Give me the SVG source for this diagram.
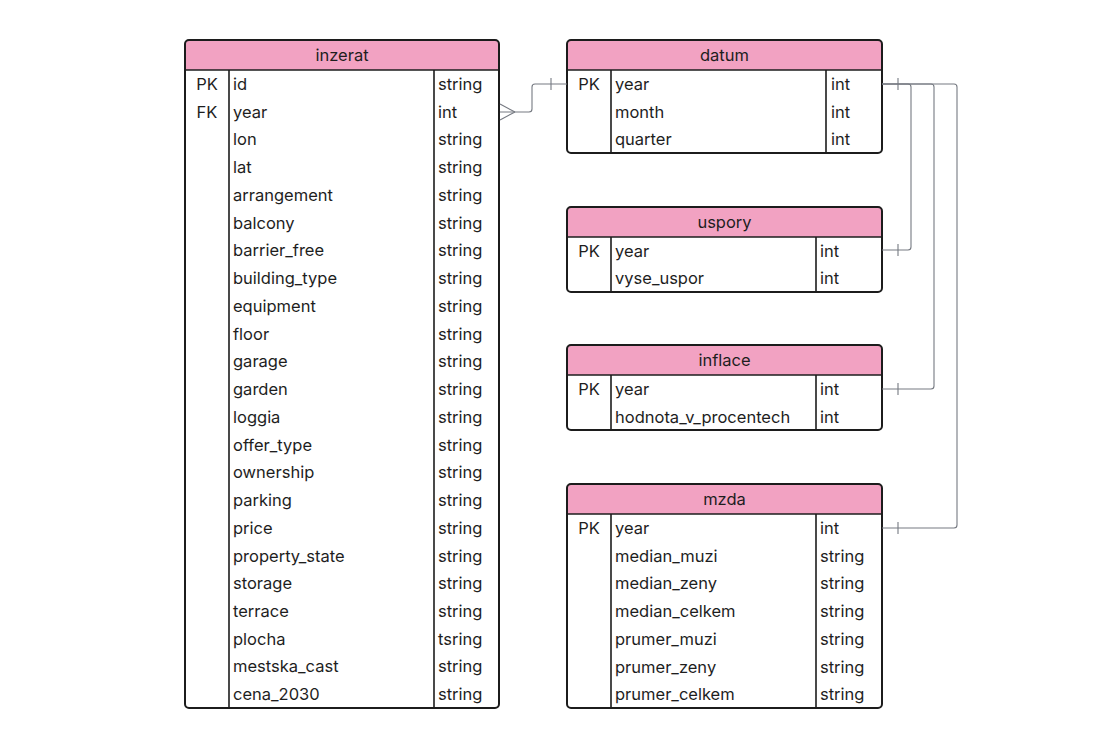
<svg xmlns="http://www.w3.org/2000/svg" width="1103" height="735" viewBox="0 0 1103 735">
<style>
text{font-family:Inter,"Noto Sans","Liberation Sans",sans-serif;font-size:16.5px;fill:#1e1e1e;dominant-baseline:central}
.hd{text-anchor:middle}
.k{text-anchor:middle}
.box{fill:#fff;stroke:none}
.hdr{fill:#f2a2c2;stroke:none}
.ln{stroke:#1c1c1c;stroke-width:1.6;fill:none}
.out{fill:none;stroke:#1c1c1c;stroke-width:2}
.cn{fill:none;stroke:#767a82;stroke-width:1.1}
</style>
<rect width="1103" height="735" fill="#fff"/>

<g id="inzerat">
<rect class="box" x="185" y="40" width="314" height="668" rx="4"/>
<path class="hdr" d="M185,70 V44 a4,4 0 0 1 4,-4 H495 a4,4 0 0 1 4,4 V70 Z"/>
<line class="ln" x1="185" y1="70" x2="499" y2="70"/>
<line class="ln" x1="229" y1="70" x2="229" y2="708"/>
<line class="ln" x1="434" y1="70" x2="434" y2="708"/>
<rect class="out" x="185" y="40" width="314" height="668" rx="4"/>
<text class="hd" x="342" y="55">inzerat</text>
<text class="k" x="207" y="83.9">PK</text>
<text class="k" x="207" y="111.6">FK</text>
<text x="233" y="83.9">id</text><text x="438" y="83.9">string</text>
<text x="233" y="111.6">year</text><text x="438" y="111.6">int</text>
<text x="233" y="139.4">lon</text><text x="438" y="139.4">string</text>
<text x="233" y="167.1">lat</text><text x="438" y="167.1">string</text>
<text x="233" y="194.8">arrangement</text><text x="438" y="194.8">string</text>
<text x="233" y="222.6">balcony</text><text x="438" y="222.6">string</text>
<text x="233" y="250.3">barrier_free</text><text x="438" y="250.3">string</text>
<text x="233" y="278.1">building_type</text><text x="438" y="278.1">string</text>
<text x="233" y="305.8">equipment</text><text x="438" y="305.8">string</text>
<text x="233" y="333.5">floor</text><text x="438" y="333.5">string</text>
<text x="233" y="361.3">garage</text><text x="438" y="361.3">string</text>
<text x="233" y="389">garden</text><text x="438" y="389">string</text>
<text x="233" y="416.8">loggia</text><text x="438" y="416.8">string</text>
<text x="233" y="444.5">offer_type</text><text x="438" y="444.5">string</text>
<text x="233" y="472.2">ownership</text><text x="438" y="472.2">string</text>
<text x="233" y="500">parking</text><text x="438" y="500">string</text>
<text x="233" y="527.7">price</text><text x="438" y="527.7">string</text>
<text x="233" y="555.5">property_state</text><text x="438" y="555.5">string</text>
<text x="233" y="583.2">storage</text><text x="438" y="583.2">string</text>
<text x="233" y="610.9">terrace</text><text x="438" y="610.9">string</text>
<text x="233" y="638.7">plocha</text><text x="438" y="638.7">tsring</text>
<text x="233" y="666.4">mestska_cast</text><text x="438" y="666.4">string</text>
<text x="233" y="694.2">cena_2030</text><text x="438" y="694.2">string</text>
</g>

<g id="datum">
<rect class="box" x="567" y="40" width="315" height="113" rx="4"/>
<path class="hdr" d="M567,70 V44 a4,4 0 0 1 4,-4 H878 a4,4 0 0 1 4,4 V70 Z"/>
<line class="ln" x1="567" y1="70" x2="882" y2="70"/>
<line class="ln" x1="611" y1="70" x2="611" y2="153"/>
<line class="ln" x1="826" y1="70" x2="826" y2="153"/>
<rect class="out" x="567" y="40" width="315" height="113" rx="4"/>
<text class="hd" x="724.5" y="55">datum</text>
<text class="k" x="589" y="83.9">PK</text>
<text x="615" y="83.9">year</text><text x="831" y="83.9">int</text>
<text x="615" y="111.6">month</text><text x="831" y="111.6">int</text>
<text x="615" y="139.4">quarter</text><text x="831" y="139.4">int</text>
</g>

<g id="uspory">
<rect class="box" x="567" y="207" width="315" height="85" rx="4"/>
<path class="hdr" d="M567,237 V211 a4,4 0 0 1 4,-4 H878 a4,4 0 0 1 4,4 V237 Z"/>
<line class="ln" x1="567" y1="237" x2="882" y2="237"/>
<line class="ln" x1="611" y1="237" x2="611" y2="292"/>
<line class="ln" x1="816" y1="237" x2="816" y2="292"/>
<rect class="out" x="567" y="207" width="315" height="85" rx="4"/>
<text class="hd" x="724.5" y="222">uspory</text>
<text class="k" x="589" y="250.5">PK</text>
<text x="615" y="250.5">year</text><text x="820" y="250.5">int</text>
<text x="615" y="278.2">vyse_uspor</text><text x="820" y="278.2">int</text>
</g>

<g id="inflace">
<rect class="box" x="567" y="345" width="315" height="85" rx="4"/>
<path class="hdr" d="M567,375 V349 a4,4 0 0 1 4,-4 H878 a4,4 0 0 1 4,4 V375 Z"/>
<line class="ln" x1="567" y1="375" x2="882" y2="375"/>
<line class="ln" x1="611" y1="375" x2="611" y2="430"/>
<line class="ln" x1="816" y1="375" x2="816" y2="430"/>
<rect class="out" x="567" y="345" width="315" height="85" rx="4"/>
<text class="hd" x="724.5" y="360">inflace</text>
<text class="k" x="589" y="388.9">PK</text>
<text x="615" y="388.9">year</text><text x="820" y="388.9">int</text>
<text x="615" y="416.6">hodnota_v_procentech</text><text x="820" y="416.6">int</text>
</g>

<g id="mzda">
<rect class="box" x="567" y="484" width="315" height="224" rx="4"/>
<path class="hdr" d="M567,514 V488 a4,4 0 0 1 4,-4 H878 a4,4 0 0 1 4,4 V514 Z"/>
<line class="ln" x1="567" y1="514" x2="882" y2="514"/>
<line class="ln" x1="611" y1="514" x2="611" y2="708"/>
<line class="ln" x1="816" y1="514" x2="816" y2="708"/>
<rect class="out" x="567" y="484" width="315" height="224" rx="4"/>
<text class="hd" x="724.5" y="499">mzda</text>
<text class="k" x="589" y="527.9">PK</text>
<text x="615" y="527.9">year</text><text x="820" y="527.9">int</text>
<text x="615" y="555.6">median_muzi</text><text x="820" y="555.6">string</text>
<text x="615" y="583.4">median_zeny</text><text x="820" y="583.4">string</text>
<text x="615" y="611.1">median_celkem</text><text x="820" y="611.1">string</text>
<text x="615" y="638.9">prumer_muzi</text><text x="820" y="638.9">string</text>
<text x="615" y="666.6">prumer_zeny</text><text x="820" y="666.6">string</text>
<text x="615" y="694.4">prumer_celkem</text><text x="820" y="694.4">string</text>
</g>

<g id="connectors">
<path class="cn" d="M500,112 H529 a3,3 0 0 0 3,-3 V87 a3,3 0 0 1 3,-3 H567"/>
<path class="cn" d="M515,112 L500,104 M515,112 L500,120"/>
<path class="cn" d="M551,78 V90"/>
<path class="cn" d="M882,84 H908 a3,3 0 0 1 3,3 V247 a3,3 0 0 1 -3,3 H882"/>
<path class="cn" d="M882,84 H931 a3,3 0 0 1 3,3 V386 a3,3 0 0 1 -3,3 H882"/>
<path class="cn" d="M882,84 H954 a3,3 0 0 1 3,3 V525 a3,3 0 0 1 -3,3 H882"/>
<path class="cn" d="M898,78 V90 M898,244 V256 M898,383 V395 M898,522 V534"/>
</g>
</svg>
